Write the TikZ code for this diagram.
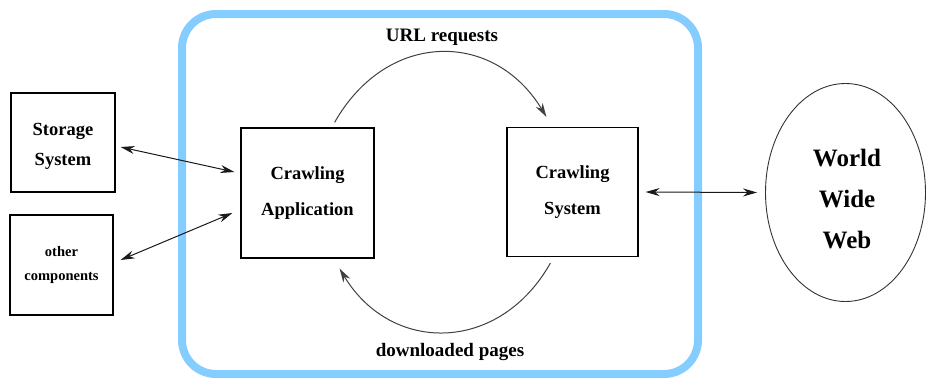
\documentclass[tikz,border=0pt]{standalone}
\usepackage{fontspec}
\setmainfont{Liberation Serif}
\usetikzlibrary{arrows.meta,shapes.geometric}
\definecolor{frameblue}{RGB}{133,204,255}
\tikzset{
  box/.style={draw=black,line width=1.2pt,rectangle,inner sep=0pt,align=center,font=\bfseries\fontsize{18.5}{36}\selectfont},
  tip/.tip={Stealth[length=14pt,width=8pt]},
  conn/.style={draw=black!90,line width=1pt,tip-tip},
  arc/.style={draw=black!75,line width=1pt,-tip},
  lbl/.style={font=\bfseries\fontsize{19}{22}\selectfont,inner sep=0pt}
}
\begin{document}
\begin{tikzpicture}[x=1pt,y=-1pt]
\useasboundingbox (0,0) rectangle (926,381);
\draw[frameblue,line width=8pt,rounded corners=34pt] (182,14) rectangle (698,374);
\node[box,minimum width=104pt,minimum height=99pt] (stor) at (63,142.5) {};
\node[align=center,inner sep=0pt,font=\bfseries\fontsize{18.5}{30}\selectfont] (stort) at (63,146) {Storage\\System};
\node[box,minimum width=103pt,minimum height=100pt,font=\bfseries\fontsize{14.5}{24}\selectfont] (other) at (61.5,265) {other\\[0pt]components};
\node[box,minimum width=133pt,minimum height=130pt] (app) at (307.5,193) {Crawling\\Application};
\node[box,minimum width=131pt,minimum height=129pt] (sys) at (572.5,192) {Crawling\\System};
\node[draw=black!80,line width=0.9pt,ellipse,minimum width=160pt,minimum height=218pt,inner sep=0pt] (www) at (845.5,192.5) {};
\node[align=center,inner sep=0pt,font=\bfseries\fontsize{25}{41}\selectfont] (wwwt) at (847,199) {World\\Wide\\Web};
\node[lbl] (url) at (442,37) {URL requests};
\node[lbl] (dl) at (450,352) {downloaded pages};
\draw[conn] ([xshift=5pt,yshift=-4.5pt]stor.east) -- ([xshift=-6pt,yshift=21pt]app.west);
\draw[conn] ([xshift=7pt,yshift=5pt]other.east) -- ([xshift=-8pt,yshift=-20pt]app.west);
\draw[conn] ([xshift=7pt]sys.east) -- ([xshift=-8pt]www.west);
\draw[arc] ([xshift=-40pt,yshift=5pt]app.north east) .. controls (387,30) and (494,30) .. ([xshift=40pt,yshift=10pt]sys.north west);
\draw[arc] ([xshift=44pt,yshift=-6pt]sys.south west) .. controls (499,354) and (391,354) .. ([xshift=-35pt,yshift=-10pt]app.south east);
\end{tikzpicture}
\end{document}
